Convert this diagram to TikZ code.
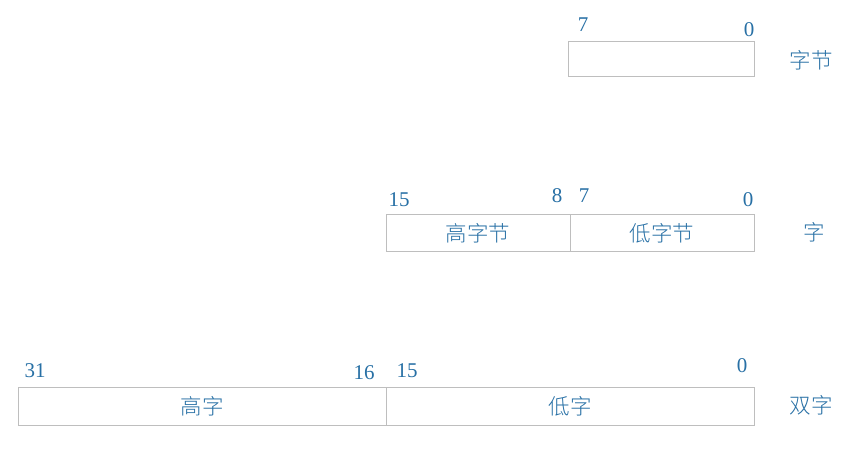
\documentclass[tikz,border=0pt]{standalone}
\usepackage{fontspec}
\newfontfamily\cjk{Noto Sans CJK SC}[UprightFont={* Light}]
\newfontfamily\numf{Liberation Serif}
\definecolor{txt}{RGB}{40,112,165}
\definecolor{frame}{RGB}{190,190,190}
\begin{document}
\begin{tikzpicture}[x=1pt,y=-1pt,
  cell/.style={draw=frame,line width=1pt,inner sep=0pt,outer sep=0pt,text=txt,font=\cjk\fontsize{21.5}{23}\selectfont},
  num/.style={text=txt,font=\numf\fontsize{21}{23}\selectfont,inner sep=0pt},
  lab/.style={text=txt,font=\cjk\fontsize{21.5}{23}\selectfont,inner sep=0pt}]
\useasboundingbox (0,0) rectangle (855,473);
% row 1
\node[cell,minimum width=186pt,minimum height=35pt] (b1) at (661,59.5) {};
\node[num] (n1a) at (583,25) {7};
\node[num] (n1b) at (749,30) {0};
\node[lab] (l1) at (811,60) {字节};
% row 2
\node[cell,minimum width=184pt,minimum height=37pt] (b2h) at (478,233.5) {高字节};
\node[cell,minimum width=184pt,minimum height=37pt] (b2l) at (662,233.5) {低字节};
\node[num] (n2a) at (399,200) {15};
\node[num] (n2b) at (557,196) {8};
\node[num] (n2c) at (584,196) {7};
\node[num] (n2d) at (748,200) {0};
\node[lab] (l2) at (814,232) {字};
% row 3
\node[cell,minimum width=368pt,minimum height=38pt] (b3h) at (202,406) {高字};
\node[cell,minimum width=368pt,minimum height=38pt] (b3l) at (570,406) {低字};
\node[num] (n3a) at (35,371) {31};
\node[num] (n3b) at (364,373) {16};
\node[num] (n3c) at (407,371) {15};
\node[num] (n3d) at (742,366) {0};
\node[lab] (l3) at (811,405) {双字};
\end{tikzpicture}
\end{document}
